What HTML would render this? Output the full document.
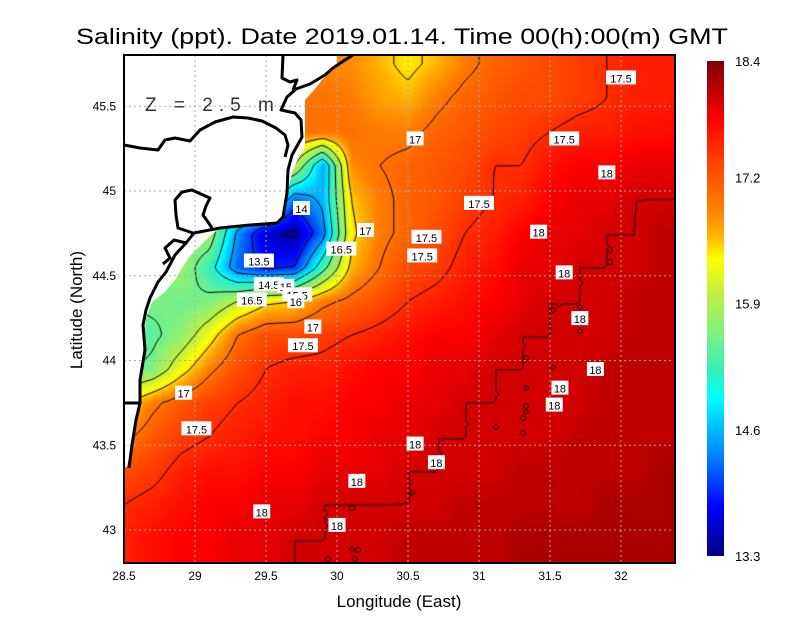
<!DOCTYPE html>
<html><head><meta charset="utf-8"><style>
body{margin:0;background:#fff;width:800px;height:618px;overflow:hidden;position:relative;font-family:"Liberation Sans",sans-serif}
#field{position:absolute;left:124px;top:55px}
#ov{position:absolute;left:0;top:0}
</style></head><body>
<canvas id="field" width="551" height="508"></canvas>
<svg id="ov" width="800" height="618">
<g id="land"></g>
<g id="grid"></g>
<g id="coast"></g>
<g id="labels"></g>
<rect x="124" y="55" width="551" height="508" fill="none" stroke="#000" stroke-width="2"/>
<text x="402" y="44" text-anchor="middle" font-size="22" textLength="652" lengthAdjust="spacingAndGlyphs">Salinity (ppt). Date 2019.01.14. Time 00(h):00(m) GMT</text>
<text x="145" y="111" font-size="19" fill="#333" letter-spacing="6">Z = 2.5 m</text>
<text x="399" y="607" text-anchor="middle" font-size="17">Longitude (East)</text>
<text transform="translate(82,310) rotate(-90)" text-anchor="middle" font-size="17">Latitude (North)</text>
<g id="xt"></g>
<g id="yt"></g>
<defs><linearGradient id="cg" x1="0" y1="0" x2="0" y2="1">
<stop offset="0" stop-color="#800000"/><stop offset="0.12" stop-color="#ff0000"/><stop offset="0.2" stop-color="#ff4000"/><stop offset="0.3" stop-color="#ff8000"/><stop offset="0.35" stop-color="#ffb000"/><stop offset="0.4" stop-color="#ffff00"/><stop offset="0.47" stop-color="#c0f040"/><stop offset="0.55" stop-color="#80f080"/><stop offset="0.63" stop-color="#30f0c0"/><stop offset="0.68" stop-color="#00ffff"/><stop offset="0.8" stop-color="#0080ff"/><stop offset="0.9" stop-color="#0000ff"/><stop offset="1" stop-color="#000080"/>
</linearGradient></defs>
<rect x="707" y="61" width="17" height="495" fill="url(#cg)"/>
<g id="cb"></g>
</svg>
<script>
const lonTicks=[28.5,29,29.5,30,30.5,31,31.5,32];
const latTicks=[43,43.5,44,44.5,45,45.5];
const cbarTicks=[18.4,17.2,15.9,14.6,13.3];
const contourLevels=[13.5,14,14.5,15,15.5,16,16.5,17,17.5,18];
const gridLon0=28.5, gridLat0=45.75, gridStep=0.2;
const salinity=[
[16.8,16.8,16.8,16.8,16.8,16.8,16.8,16.8,16.8,16.6,16.4,16.6,16.9,17.1,17.2,17.3,17.4,17.5,17.6,17.6,17.6],
[16.9,16.9,16.9,16.9,16.9,16.9,16.9,17.0,16.9,16.7,16.6,16.9,17.1,17.2,17.3,17.3,17.4,17.5,17.6,17.6,17.7],
[17.0,17.0,17.0,17.0,17.0,17.0,17.0,17.0,17.0,16.9,16.9,17.1,17.2,17.3,17.4,17.5,17.6,17.6,17.7,17.7,17.8],
[16.5,16.5,16.5,16.5,16.5,16.5,16.0,14.5,16.8,17.0,17.1,17.2,17.3,17.5,17.5,17.7,17.8,17.8,17.9,17.9,17.9],
[15.5,15.5,15.5,15.5,15.5,15.5,14.2,14.6,16.5,16.9,17.1,17.2,17.4,17.5,17.6,17.8,17.9,17.9,18.0,18.0,18.0],
[15.8,15.8,15.8,15.8,14.4,13.6,13.4,14.3,16.4,16.9,17.1,17.3,17.5,17.6,17.8,17.9,17.9,18.0,18.0,18.1,18.1],
[15.5,15.5,15.8,15.2,14.2,13.9,14.0,15.3,16.6,17.0,17.3,17.4,17.6,17.7,17.9,17.9,18.0,18.0,18.0,18.1,18.1],
[15.5,15.6,15.5,15.6,16.0,16.4,16.5,16.9,17.1,17.3,17.5,17.6,17.7,17.8,17.9,18.0,18.0,18.0,18.1,18.1,18.1],
[15.3,15.4,15.7,16.3,17.0,17.3,17.3,17.4,17.5,17.6,17.7,17.8,17.8,17.9,18.0,18.0,18.0,18.0,18.1,18.1,18.1],
[15.4,15.6,16.3,16.9,17.3,17.5,17.6,17.6,17.7,17.8,17.8,17.9,17.9,18.0,18.0,18.0,18.0,18.1,18.1,18.1,18.1],
[16.4,16.9,17.2,17.4,17.5,17.6,17.7,17.7,17.8,17.8,17.9,17.9,18.0,18.0,18.0,18.0,18.0,18.1,18.1,18.1,18.1],
[16.9,17.2,17.4,17.5,17.6,17.7,17.7,17.8,17.8,17.9,17.9,18.0,18.0,18.0,18.0,18.0,18.1,18.1,18.1,18.1,18.1],
[17.3,17.4,17.6,17.7,17.7,17.8,17.8,17.9,17.9,17.9,18.0,18.0,18.0,18.0,18.1,18.1,18.1,18.1,18.1,18.2,18.2],
[17.5,17.6,17.7,17.8,17.8,17.9,17.9,18.0,18.0,18.0,18.0,18.0,18.1,18.1,18.1,18.1,18.1,18.2,18.2,18.2,18.2],
[17.6,17.7,17.8,17.8,17.9,17.9,18.0,18.0,18.0,18.0,18.1,18.1,18.1,18.1,18.2,18.2,18.2,18.2,18.2,18.2,18.2],
[17.6,17.7,17.8,17.8,17.9,17.9,18.0,18.0,18.0,18.0,18.1,18.1,18.1,18.1,18.2,18.2,18.2,18.2,18.2,18.2,18.2]
];
const labelTexts=["17.5","17","17.5","18","17.5","14","17","17.5","18","16.5","17.5","13.5","18","14.5","15","15.5","16","16.5","18","17","17.5","18","18","17","18","17.5","18","18","18","18","18"];
const labelLons=[32.0,30.55,31.6,31.9,31.0,29.75,30.2,30.63,31.42,30.03,30.6,29.45,31.6,29.52,29.64,29.72,29.71,29.4,31.71,29.83,29.76,31.82,31.57,28.92,31.53,29.01,30.55,30.7,30.14,29.47,30.0];
const labelLats=[45.67,45.31,45.31,45.11,44.93,44.9,44.77,44.73,44.76,44.66,44.62,44.59,44.52,44.45,44.44,44.39,44.35,44.36,44.25,44.2,44.09,43.95,43.84,43.81,43.74,43.6,43.51,43.4,43.29,43.11,43.03];

const X=lon=>124+(lon-28.5)*142;
const Y=lat=>530-(lat-43)*169.5;
const LON=px=>28.5+(px-124)/142;
const LAT=py=>43+(530-py)/169.5;
const ROWS=salinity.length, COLS=salinity[0].length;
function field(px,py){
  let fi=(LON(px)-gridLon0)/gridStep, fj=(gridLat0-LAT(py))/gridStep;
  fi=Math.max(0,Math.min(COLS-1.001,fi)); fj=Math.max(0,Math.min(ROWS-1.001,fj));
  const i=Math.floor(fi), j=Math.floor(fj), a=fi-i, b=fj-j;
  return salinity[j][i]*(1-a)*(1-b)+salinity[j][i+1]*a*(1-b)+salinity[j+1][i]*(1-a)*b+salinity[j+1][i+1]*a*b;
}
const stops=[[0,128,0,0],[0.12,255,0,0],[0.2,255,64,0],[0.3,255,128,0],[0.35,255,176,0],[0.4,255,255,0],[0.47,192,240,64],[0.55,128,240,128],[0.63,48,240,192],[0.68,0,255,255],[0.8,0,128,255],[0.9,0,0,255],[1,0,0,128]];
function cmap(v){
  let f=(18.4-v)/5.1; f=Math.max(0,Math.min(1,f));
  for(let k=1;k<stops.length;k++){ if(f<=stops[k][0]){const s0=stops[k-1],s1=stops[k],t=(f-s0[0])/(s1[0]-s0[0]);
    return [s0[1]+(s1[1]-s0[1])*t,s0[2]+(s1[2]-s0[2])*t,s0[3]+(s1[3]-s0[3])*t];}}
  return [0,0,128];
}
const cv=document.getElementById('field'), ctx=cv.getContext('2d');
const W=551,H=508, img=ctx.createImageData(W,H);
for(let y=0;y<H;y++)for(let x=0;x<W;x++){const c=cmap(field(124+x,55+y)),k=(y*W+x)*4;img.data[k]=c[0];img.data[k+1]=c[1];img.data[k+2]=c[2];img.data[k+3]=255;}
ctx.putImageData(img,0,0);
const S=3, nx=Math.ceil(W/S)+1, ny=Math.ceil(H/S)+1, F=[];
for(let j=0;j<ny;j++){F[j]=[];for(let i=0;i<nx;i++)F[j][i]=field(124+i*S,55+j*S);}
ctx.strokeStyle='#000';ctx.lineWidth=1;ctx.beginPath();
contourLevels.forEach(L=>{
  for(let j=0;j<ny-1;j++)for(let i=0;i<nx-1;i++){
    const a=F[j][i],b=F[j][i+1],c=F[j+1][i+1],d=F[j+1][i],p=[];
    const x0=i*S,y0=j*S;
    if((a<L)!=(b<L))p.push([x0+S*(L-a)/(b-a),y0]);
    if((b<L)!=(c<L))p.push([x0+S,y0+S*(L-b)/(c-b)]);
    if((d<L)!=(c<L))p.push([x0+S*(L-d)/(c-d),y0+S]);
    if((a<L)!=(d<L))p.push([x0,y0+S*(L-a)/(d-a)]);
    for(let k=0;k+1<p.length;k+=2){ctx.moveTo(p[k][0],p[k][1]);ctx.lineTo(p[k+1][0],p[k+1][1]);}
  }
});
ctx.stroke();
const NS='http://www.w3.org/2000/svg';
function mk(tag,attrs,parent){const e=document.createElementNS(NS,tag);for(const k in attrs)e.setAttribute(k,attrs[k]);document.getElementById(parent).appendChild(e);return e;}
const landEl=mk('polygon',{points:'124,55 337,55 337,66 330,72 322,80 314,90 305,100 305,147 300,155 293,170 287,193 284,215 277,223 220,228 210,236 200,246 190,256 182,268 175,280 165,292 152,302 146,318 143,350 140,400 134,433 127,467 124,467',fill:'#fff'},'land');


lonTicks.slice(1).forEach(v=>{const l=mk('line',{x1:X(v),x2:X(v),y1:55,y2:563,stroke:'#aaa','stroke-dasharray':'2,3'},'grid');

});
latTicks.forEach(v=>{const l=mk('line',{x1:124,x2:675,y1:Y(v),y2:Y(v),stroke:'#aaa','stroke-dasharray':'2,3'},'grid');

});
const coastPaths=[
'M283,55 L282,78 L290,82 L297,80 L293,90 M293,90 L310,84 L325,75 L333,68 L345,60 L353,55',
'M296,89 L287,97 L281,110 L295,113 L301,120 L302,137 L292,155 L288,170 L287,193 L283,217 L277,223 L250,225 L220,228 L194,233 L186,243 L175,255 L166,272 L158,282 L150,298 L146,310 L143,325 L145,350 L140,380 L140,403 L136,420 L132,445 L129,468',
'M124,145 L140,148 L158,150 L165,140 L175,138 L190,141 L200,130 L215,122 L233,117 L248,118 L262,121 L276,128 L285,135 L288,145 L285,157',
'M193,233 L178,228 L176,215 L175,200 L182,192 L192,190 L203,195 L210,198 L206,206 L203,215 L208,222 L212,228',
'M186,243 L174,240 L165,248 L170,258 L163,264 M124,403 L140,403'];
coastPaths.forEach(d=>{const p=mk('path',{d:d,fill:'none',stroke:'#000','stroke-width':3,'stroke-linejoin':'round'},'coast');

});
labelTexts.forEach((t,k)=>{const cx=X(labelLons[k]),cy=Y(labelLats[k]),w=t.length*6.5+4;
const r=mk('rect',{x:cx-w/2,y:cy-7,width:w,height:14,fill:'#fff'},'labels');


const tx=mk('text',{x:cx,y:cy+5,'text-anchor':'middle','font-size':11},'labels');tx.textContent=t;

});
lonTicks.forEach(v=>{const t=mk('text',{x:X(v),y:580,'text-anchor':'middle','font-size':12},'xt');t.textContent=String(v);

});
latTicks.forEach(v=>{const t=mk('text',{x:116,y:Y(v)+4,'text-anchor':'end','font-size':12},'yt');t.textContent=String(v);

});
cbarTicks.forEach(v=>{const y=61+(18.4-v)/5.1*495;const t=mk('text',{x:735,y:y+5,'font-size':13},'cb');t.textContent=v.toFixed(1);

});
</script>
</body></html>
